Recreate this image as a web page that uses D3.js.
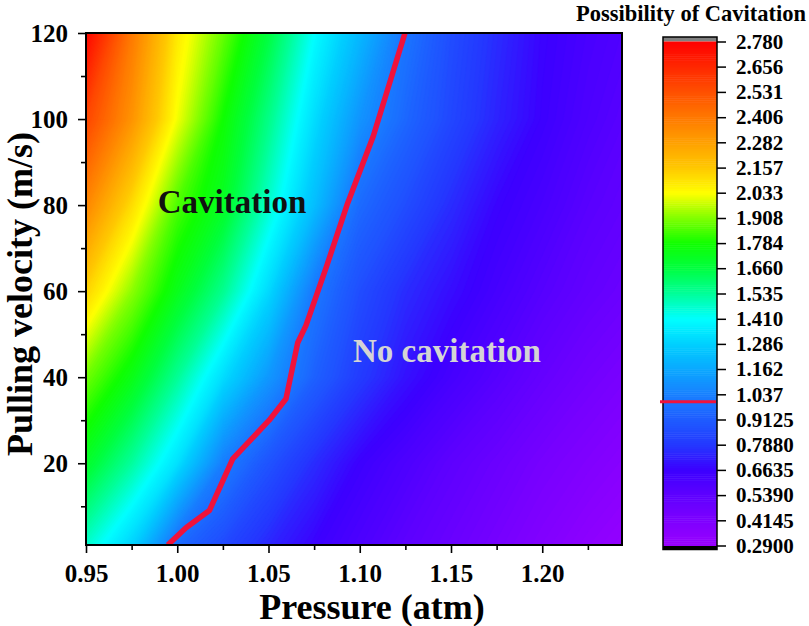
<!DOCTYPE html>
<html>
<head>
<meta charset="utf-8">
<script src="https://cdn.jsdelivr.net/npm/d3@7"></script>
<style>
  body { margin: 0; background: #fff; }
  svg { display: block; }
  text { font-family: "Liberation Serif", "Times New Roman", serif; font-weight: bold; }
</style>
</head>
<body>
<svg id="chart" width="809" height="626"></svg>
<script>
// grid of the contour map (rows = velocity, columns = pressure)
const pressures = [0.95, 0.975, 1.00, 1.025, 1.05, 1.075, 1.10, 1.125, 1.15, 1.175, 1.20, 1.225, 1.25]
const velocities = [0, 20, 40, 60, 80, 100, 120]
const possibility = [
  [1.46, 1.28, 0.95, 0.84, 0.74, 0.66, 0.60, 0.54, 0.49, 0.44, 0.39, 0.34, 0.30],
  [1.70, 1.53, 1.33, 1.03, 0.88, 0.76, 0.66, 0.60, 0.54, 0.49, 0.44, 0.40, 0.36],
  [1.89, 1.74, 1.54, 1.32, 1.11, 0.93, 0.80, 0.70, 0.63, 0.57, 0.51, 0.46, 0.42],
  [2.13, 1.92, 1.73, 1.55, 1.31, 1.01, 0.86, 0.76, 0.69, 0.63, 0.57, 0.52, 0.48],
  [2.36, 2.11, 1.85, 1.71, 1.47, 1.23, 0.96, 0.86, 0.76, 0.67, 0.62, 0.56, 0.52],
  [2.56, 2.32, 2.02, 1.78, 1.56, 1.32, 1.10, 0.95, 0.84, 0.74, 0.66, 0.60, 0.55],
  [2.76, 2.40, 2.08, 1.88, 1.66, 1.41, 1.21, 1.00, 0.86, 0.76, 0.67, 0.62, 0.58]
]

// cavitation boundary (possibility = 1)
const boundaryPressure = [0.9948, 1.0048, 1.0176, 1.0304, 1.0504, 1.0596, 1.066, 1.0705, 1.082, 1.093, 1.1074, 1.1248]
const boundaryVelocity = [1, 5, 9, 21, 30, 35, 48, 52, 66, 80, 96, 120]
const boundaryLevel = 1.0

// axes
const xTicks = [0.95, 1.00, 1.05, 1.10, 1.15, 1.20]
const xMinorTicks = [0.975, 1.025, 1.075, 1.125, 1.175, 1.225]
const yTicks = [20, 40, 60, 80, 100, 120]
const yMinorTicks = [10, 30, 50, 70, 90, 110]

// colour bar
const barTickValues = [0.29, 0.4145, 0.539, 0.6635, 0.788, 0.9125, 1.037, 1.162, 1.286, 1.41, 1.535,
  1.66, 1.784, 1.908, 2.033, 2.157, 2.282, 2.406, 2.531, 2.656, 2.78]
const barTickLabels = ["0.2900", "0.4145", "0.5390", "0.6635", "0.7880", "0.9125", "1.037", "1.162", "1.286", "1.410", "1.535",
  "1.660", "1.784", "1.908", "2.033", "2.157", "2.282", "2.406", "2.531", "2.656", "2.780"]
const colorStopValues = [0.29, 0.4145, 0.539, 0.6635, 0.788, 0.9125, 1.037, 1.162, 1.286, 1.41, 1.535,
  1.66, 1.784, 1.908, 2.033, 2.157, 2.282, 2.406, 2.531, 2.656, 2.78]
const colorStopColors = ["#9900ff", "#7d00ff", "#5e00ff", "#3c00ff", "#2438ff", "#1e5cff", "#1880ff", "#0aa8ff", "#00d0ff", "#00ffff", "#00ff9a",
  "#00ff40", "#10ff00", "#80ff00", "#ffff00", "#ffc800", "#ffa000", "#ff7800", "#ff5000", "#ff2800", "#ff0000"]

const margin = {left: 86, top: 33, right: 622, bottom: 545}
const bar = {x0: 663, x1: 717, top: 41.5, bottom: 545.5}
const nLevels = 240

const svg = d3.select('#chart')

const x = d3.scaleLinear().domain([0.95, 1.2437]).range([margin.left, margin.right])
const y = d3.scaleLinear().domain([1, 120]).range([margin.bottom, margin.top])
const color = d3.scaleLinear().domain(colorStopValues).range(colorStopColors).interpolate(d3.interpolateRgb).clamp(true)

const vMin = barTickValues[0], vMax = barTickValues[barTickValues.length - 1]
const step = (vMax - vMin) / nLevels
const levels = d3.range(nLevels).map(i => vMin + i * step)

// clip
svg.append('defs').append('clipPath').attr('id', 'plotClip')
  .append('rect')
  .attr('x', margin.left).attr('y', margin.top)
  .attr('width', margin.right - margin.left).attr('height', margin.bottom - margin.top)

/**
 * contour fill: grid coordinates -> data -> pixels
 */
function drawContours() {
  const n = pressures.length, m = velocities.length
  const values = possibility.flat()
  const gx = d3.scaleLinear().domain(pressures.map((d, i) => i + 0.5)).range(pressures)
  const gy = d3.scaleLinear().domain(velocities.map((d, i) => i + 0.5)).range(velocities)
  const proj = d3.geoTransform({
    point: function (px, py) {
      this.stream.point(x(gx(px)), y(gy(py)))
    }
  })
  const path = d3.geoPath(proj)
  const contours = d3.contours().size([n, m]).smooth(true).thresholds(levels)(values)

  const g = svg.append('g').attr('clip-path', 'url(#plotClip)')
  g.append('rect')
    .attr('x', margin.left).attr('y', margin.top)
    .attr('width', margin.right - margin.left).attr('height', margin.bottom - margin.top)
    .attr('fill', color(vMin))
  g.selectAll('path.band')
    .data(contours)
    .enter().append('path')
    .attr('class', 'band')
    .attr('d', path)
    .attr('fill', d => color(d.value + step / 2))
    .attr('stroke', d => color(d.value + step / 2))
    .attr('stroke-width', 0.6)

  // boundary line
  const line = d3.line().x(d => x(d[0])).y(d => y(d[1]))
  g.append('path')
    .datum(boundaryPressure.map((p, i) => [p, boundaryVelocity[i]]))
    .attr('d', line)
    .attr('fill', 'none')
    .attr('stroke', '#f0123c')
    .attr('stroke-width', 5.5)
    .attr('stroke-linejoin', 'round')
}

function drawAxes() {
  const xAxis = svg.append('g').attr('transform', `translate(0,${margin.bottom})`)
  xAxis.call(d3.axisBottom(x).tickValues(xTicks).tickFormat(d3.format('.2f')).tickSize(8).tickPadding(11))
  xAxis.append('g').call(d3.axisBottom(x).tickValues(xMinorTicks).tickFormat('').tickSize(5))
  xAxis.selectAll('.domain').remove()
  xAxis.selectAll('text').attr('font-size', 25).attr('fill', '#000')
  xAxis.selectAll('line').attr('stroke-width', 1.6)

  const yAxis = svg.append('g').attr('transform', `translate(${margin.left},0)`)
  yAxis.call(d3.axisLeft(y).tickValues(yTicks).tickSize(8).tickPadding(10))
  yAxis.append('g').call(d3.axisLeft(y).tickValues(yMinorTicks).tickFormat('').tickSize(5))
  yAxis.selectAll('.domain').remove()
  yAxis.selectAll('text').attr('font-size', 25).attr('fill', '#000')
  yAxis.selectAll('line').attr('stroke-width', 1.6)

  svg.append('rect')
    .attr('x', margin.left).attr('y', margin.top)
    .attr('width', margin.right - margin.left).attr('height', margin.bottom - margin.top)
    .attr('fill', 'none').attr('stroke', '#000').attr('stroke-width', 2)

  svg.append('text')
    .attr('x', (margin.left + margin.right) / 2 + 18)
    .attr('y', 619)
    .attr('text-anchor', 'middle')
    .attr('font-size', 36)
    .text('Pressure (atm)')

  svg.append('text')
    .attr('transform', `translate(32,${(margin.top + margin.bottom) / 2 + 5}) rotate(-90)`)
    .attr('text-anchor', 'middle')
    .attr('font-size', 36)
    .text('Pulling velocity (m/s)')
}

function drawLabels() {
  svg.append('text')
    .attr('x', x(1.03)).attr('y', y(78.2))
    .attr('text-anchor', 'middle')
    .attr('font-size', 33)
    .attr('fill', '#111')
    .text('Cavitation')

  svg.append('text')
    .attr('x', x(1.1478)).attr('y', y(43.5))
    .attr('text-anchor', 'middle')
    .attr('font-size', 33)
    .attr('fill', '#d4d4d4')
    .text('No cavitation')
}

function drawColorBar() {
  const barY = d3.scaleLinear().domain([vMin, vMax]).range([bar.bottom, bar.top])
  const g = svg.append('g')

  g.append('rect')
    .attr('x', bar.x0).attr('y', bar.top - 4.5)
    .attr('width', bar.x1 - bar.x0).attr('height', 4.5)
    .attr('fill', '#808080')
  g.append('rect')
    .attr('x', bar.x0).attr('y', bar.bottom)
    .attr('width', bar.x1 - bar.x0).attr('height', 4)
    .attr('fill', '#000')

  g.selectAll('rect.lvl')
    .data(levels)
    .enter().append('rect')
    .attr('class', 'lvl')
    .attr('x', bar.x0)
    .attr('width', bar.x1 - bar.x0)
    .attr('y', d => barY(d + step))
    .attr('height', d => barY(d) - barY(d + step) + 0.5)
    .attr('fill', d => color(d + step / 2))

  g.append('rect')
    .attr('x', bar.x0).attr('y', bar.top - 4.5)
    .attr('width', bar.x1 - bar.x0).attr('height', bar.bottom + 4 - (bar.top - 4.5))
    .attr('fill', 'none').attr('stroke', '#000').attr('stroke-width', 1.5)

  g.append('line')
    .attr('x1', bar.x0 - 3).attr('x2', bar.x1 - 1)
    .attr('y1', barY(boundaryLevel)).attr('y2', barY(boundaryLevel))
    .attr('stroke', '#f0123c').attr('stroke-width', 3)

  const axis = g.append('g').attr('transform', `translate(${bar.x1},0)`)
  axis.call(d3.axisRight(barY).tickValues(barTickValues).tickFormat((d, i) => barTickLabels[i]).tickSize(9).tickPadding(10))
  axis.selectAll('.domain').remove()
  axis.selectAll('text').attr('font-size', 21).attr('fill', '#000')
  axis.selectAll('line').attr('stroke-width', 1.5)

  svg.append('text')
    .attr('x', 806).attr('y', 21)
    .attr('text-anchor', 'end')
    .attr('font-size', 22.5)
    .text('Possibility of Cavitation')
}

drawContours()
drawAxes()
drawLabels()
drawColorBar()
</script>
</body>
</html>
